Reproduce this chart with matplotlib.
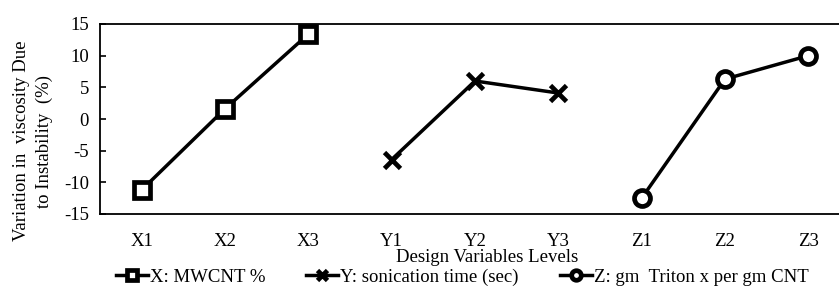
import numpy as np
import matplotlib
matplotlib.use("Agg")
import matplotlib.pyplot as plt

plt.rcParams['font.family'] = ['Liberation Serif', 'DejaVu Serif']
plt.rcParams['axes.unicode_minus'] = False

levels = ['X1', 'X2', 'X3', 'Y1', 'Y2', 'Y3', 'Z1', 'Z2', 'Z3']
x_vals = [-11.2, 1.6, 13.4]
y_vals = [-6.4, 6.0, 4.1]
z_vals = [-12.5, 6.3, 10.0]
series_names = ['X: MWCNT %', 'Y: sonication time (sec)', 'Z: gm  Triton x per gm CNT']

fs = 13.5
fig = plt.figure(figsize=(8.39, 2.92), dpi=100)
W, H = 839, 292
ax = fig.add_axes([100 / W, 1 - 214 / H, 750 / W, 190 / H])

pos = np.arange(len(levels))
style = dict(color='black', lw=2.5, markersize=11.5, markeredgewidth=3.4,
             markerfacecolor='white', markeredgecolor='black')
ax.plot(pos[0:3], x_vals, marker='s', label=series_names[0], **style)
ax.plot(pos[3:6], y_vals, marker='x', label=series_names[1], **style)
ax.plot(pos[6:9], z_vals, marker='o', label=series_names[2], **style)

ax.set_xlim(-0.5, 8.5)
ax.set_ylim(-15, 15)
ax.set_yticks(np.arange(-15, 16, 5))
ax.set_xticks(pos)
ax.set_xticklabels(levels)
ax.tick_params(axis='both', labelsize=fs)
ax.tick_params(axis='y', direction='in', length=4, width=1.2, pad=8)
ax.tick_params(axis='x', length=0, pad=14)
for s in ax.spines.values():
    s.set_linewidth(1.3)

fig.text(487 / W, 1 - 258 / H, 'Design Variables Levels', ha='center', va='center', fontsize=fs)
fig.text(33 / W, 1 - 141 / H, 'Variation in  viscosity Due\nto Instability  (%)',
         rotation=90, ha='center', va='center', fontsize=fs, linespacing=1.4,
         multialignment='center')

fig.legend(loc='center', bbox_to_anchor=(462 / W, 1 - 277 / H), ncol=3, frameon=False,
           fontsize=fs, markerscale=0.6, handlelength=1.7, handletextpad=0.1,
           columnspacing=2.2, borderpad=0)

fig.savefig('out.png', dpi=100)
